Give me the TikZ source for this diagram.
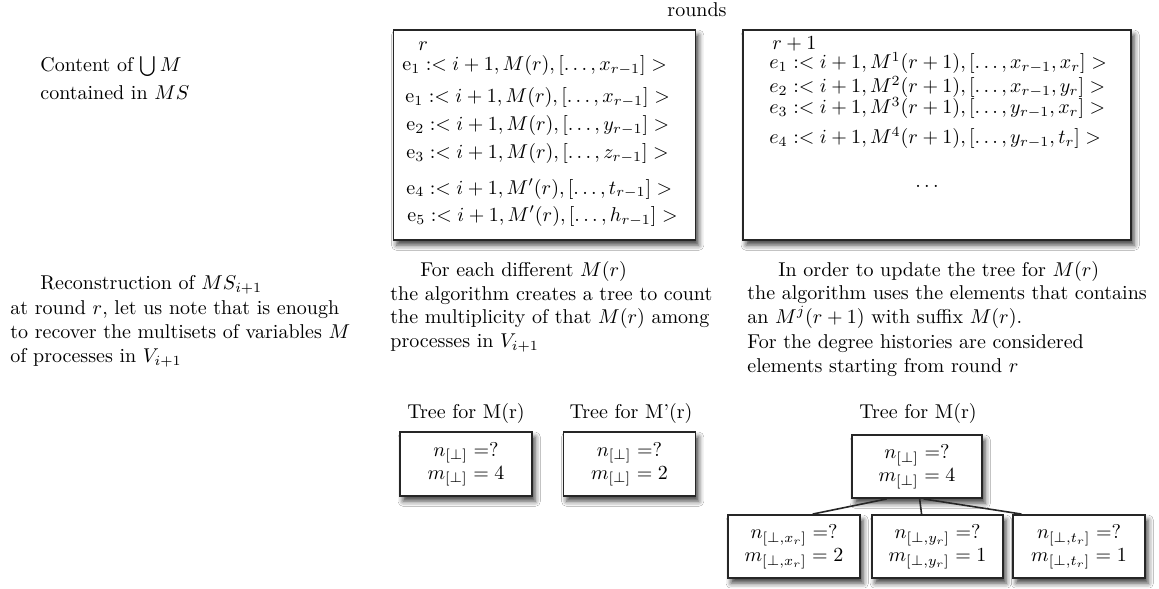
\documentclass[tikz,border=0pt]{standalone}
\usetikzlibrary{shadows.blur,calc}
\newcommand\bodyfont{\fontsize{10}{11.5}\selectfont}
\tikzset{
  txt/.style={anchor=base west, inner sep=0pt, font=\bodyfont},
  ctxt/.style={anchor=base, inner sep=0pt, font=\bodyfont},
  myshadow/.style={blur shadow={shadow xshift=1.6pt, shadow yshift=-2.6pt, shadow blur radius=2.6pt, shadow opacity=75}},
  bigbox/.style={draw=black!85, line width=0.95pt, fill=white, myshadow, inner sep=0pt},
  treebox/.style={draw=black!85, line width=0.95pt, fill=white, myshadow, minimum width=66pt, minimum height=32pt, align=center, inner sep=0pt, font=\bodyfont},
  edge/.style={draw=black!85, line width=0.8pt}
}
\begin{document}
\begin{tikzpicture}[x=0.5pt,y=-0.5pt]
\useasboundingbox[fill=white] (0,0) rectangle (1159,588);

% title
\node[ctxt] (rounds) at (697,17) {rounds};

% left texts
\node[txt] (cont1) at (40,72) {Content of $\bigcup M$};
\node[txt] (cont2) at (40,100) {contained in $MS$};

\node[txt] (rec1) at (40,289) {Reconstruction of $MS_{i+1}$};
\node[txt] (rec2) at (10,314) {at round $r$, let us note that is enough};
\node[txt] (rec3) at (10,338) {to recover the multisets of variables $M$};
\node[txt] (rec4) at (10,362) {of processes in $V_{i+1}$};

% big boxes
\node[bigbox, minimum width=151pt, minimum height=105pt] (lbox) at (544.5,135) {};
\node[bigbox, minimum width=194pt, minimum height=105pt] (rbox) at (937,135) {};

% left box content
\node[txt] (lr) at (418,51) {$r$};
\node[txt] (l1) at (402,71) {$\mathrm{e}_1 :< i+1, M(r), [\ldots, x_{r-1}] >$};
\node[txt] (l2) at (405,103) {$\mathrm{e}_1 :< i+1, M(r), [\ldots, x_{r-1}] >$};
\node[txt] (l3) at (406,131) {$\mathrm{e}_2 :< i+1, M(r), [\ldots, y_{r-1}] >$};
\node[txt] (l4) at (406,159) {$\mathrm{e}_3 :< i+1, M(r), [\ldots, z_{r-1}] >$};
\node[txt] (l5) at (406,194) {$\mathrm{e}_4 :< i+1, M'(r), [\ldots, t_{r-1}] >$};
\node[txt] (l6) at (407,221) {$\mathrm{e}_5 :< i+1, M'(r), [\ldots, h_{r-1}] >$};

% right box content
\node[txt] (rr) at (772,50) {$r+1$};
\node[txt] (r1) at (769,69) {$e_1 :< i+1, M^1(r+1), [\ldots, x_{r-1}, x_r] >$};
\node[txt] (r2) at (769,93) {$e_2 :< i+1, M^2(r+1), [\ldots, x_{r-1}, y_r] >$};
\node[txt] (r3) at (769,114) {$e_3 :< i+1, M^3(r+1), [\ldots, y_{r-1}, x_r] >$};
\node[txt] (r4) at (769,144) {$e_4 :< i+1, M^4(r+1), [\ldots, y_{r-1}, t_r] >$};
\node[ctxt] (rdots) at (927,187) {$\ldots$};

% middle text
\node[txt] (mid1) at (420,276) {For each different $M(r)$};
\node[txt] (mid2) at (390,300) {the algorithm creates a tree to count};
\node[txt] (mid3) at (390,323) {the multiplicity of that $M(r)$ among};
\node[txt] (mid4) at (390,347) {processes in $V_{i+1}$};

% right text
\node[txt] (rt1) at (778,276) {In order to update the tree for $M(r)$};
\node[txt] (rt2) at (747,299) {the algorithm uses the elements that contains};
\node[txt] (rt3) at (747,323) {an $M^j(r+1)$ with suffix $M(r)$.};
\node[txt] (rt4) at (747,348) {For the degree histories are considered};
\node[txt] (rt5) at (747,372) {elements starting from round $r$};

% tree labels
\node[ctxt] (tl1) at (466,418) {Tree for M(r)};
\node[ctxt] (tl2) at (631,418) {Tree for M'(r)};
\node[ctxt] (tl3) at (918,418) {Tree for M(r)};

% small trees
\node[treebox] (t1) at (466,464) {$n_{[\perp]} =$?\\ $m_{[\perp]} = 4$};
\node[treebox] (t2) at (629.5,464) {$n_{[\perp]} =$?\\ $m_{[\perp]} = 2$};

% big tree
\node[treebox, minimum width=65pt, minimum height=31.5pt] (root) at (917,466.5) {$n_{[\perp]} =$?\\ $m_{[\perp]} = 4$};
\node[treebox, minimum height=31.5pt] (c1) at (794,546.5) {$n_{[\perp,x_r]} =$?\\ $m_{[\perp,x_r]} = 2$};
\node[treebox, minimum width=65.5pt, minimum height=31.5pt] (c2) at (937.5,546.5) {$n_{[\perp,y_r]} =$?\\ $m_{[\perp,y_r]} = 1$};
\node[treebox, minimum height=31.5pt] (c3) at (1079,546.5) {$n_{[\perp,t_r]} =$?\\ $m_{[\perp,t_r]} = 1$};

\draw[edge] ($(root.south west)!0.27!(root.south east)$) -- ($(c1.north west)!0.64!(c1.north east)$);
\draw[edge] ($(root.south west)!0.52!(root.south east)$) -- ($(c2.north west)!0.38!(c2.north east)$);
\draw[edge] ($(root.south west)!0.55!(root.south east)$) -- ($(c3.north west)!0.07!(c3.north east)$);
\end{tikzpicture}
\end{document}
